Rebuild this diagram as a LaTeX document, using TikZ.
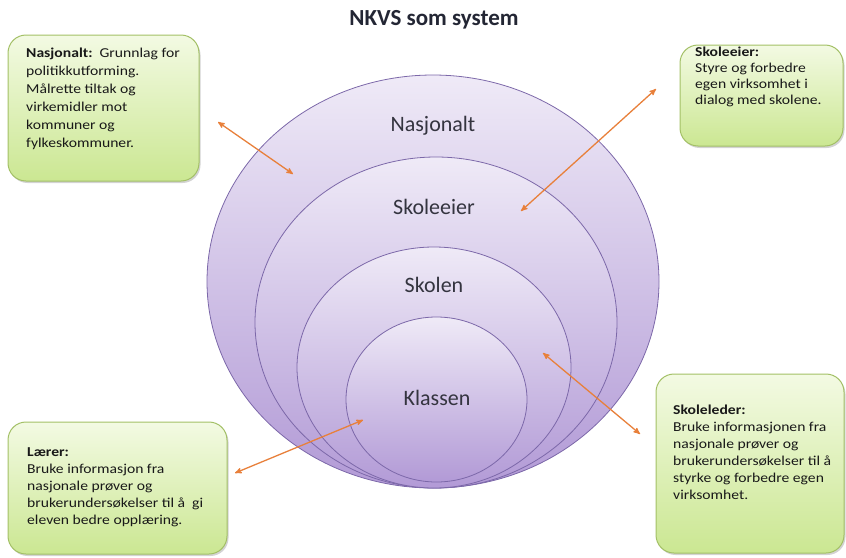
\documentclass[tikz,border=0pt]{standalone}
\usepackage{fontspec}
\setmainfont{Carlito}
\newfontfamily\boxfont[FakeStretch=1.15]{Carlito}
\usetikzlibrary{shapes,arrows,shadows,calc}

\definecolor{lilaTop}{HTML}{EFEAF7}
\definecolor{lilaBot}{HTML}{B29AD6}
\definecolor{lilaLine}{HTML}{7C68A9}
\definecolor{grTop}{HTML}{F3FAE3}
\definecolor{grBot}{HTML}{CBE792}
\definecolor{grLine}{HTML}{A3C066}
\definecolor{pilfarge}{HTML}{E8803B}
\definecolor{tittelgray}{HTML}{232634}
\definecolor{labelgray}{HTML}{34343F}

\begin{document}
\begin{tikzpicture}[x=1pt,y=-1pt,
  nivaa/.style={ellipse,draw=lilaLine,line width=0.8pt,top color=lilaTop,bottom color=lilaBot,inner sep=0pt,outer sep=0pt},
  nivaatekst/.style={font=\fontsize{22}{26}\selectfont,text=labelgray},
  boks/.style={draw=grLine,line width=1pt,rounded corners=18pt,top color=grTop,bottom color=grBot,
    drop shadow={shadow xshift=1.5pt,shadow yshift=-2pt,opacity=0.35}},
  bokstekst/.style={font=\boxfont\fontsize{13.6}{17}\selectfont,align=left,anchor=north west,inner sep=0pt,text=black!90},
  pil/.style={<->,>=stealth',draw=pilfarge,line width=1.3pt}]
        \useasboundingbox (0,0) rectangle (846,557);
        \node[font=\bfseries\fontsize{23}{27}\selectfont,text=tittelgray] (tittel) at (434,20) {NKVS som system};

        % the four levels, all touching at the bottom
        \node[nivaa,minimum width=452pt,minimum height=413pt] (nasjonalt) at (433,281.5) {};
        \node[nivaa,minimum width=362pt,minimum height=331pt] (skoleeier) at (436,322.5) {};
        \node[nivaa,minimum width=274pt,minimum height=241pt] (skolen) at (434,367.5) {};
        \node[nivaa,minimum width=181pt,minimum height=165pt] (klassen) at (436.5,399.5) {};
        \node[nivaatekst] (nasjonaltTxt) at (433,126) {Nasjonalt};
        \node[nivaatekst] (skoleeierTxt) at (434,207) {Skoleeier};
        \node[nivaatekst] (skolenTxt) at (434,285) {Skolen};
        \node[nivaatekst] (klassenTxt) at (437,398) {Klassen};

        % boxes
        \node[boks,minimum width=191pt,minimum height=146pt] (nasjonaltBoks) at (103.5,108) {};
        \node[bokstekst,font=\boxfont\fontsize{13.6}{18}\selectfont] (nasjonaltBoksTxt) at (26,48)
          {\textbf{Nasjonalt:}\ \ Grunnlag for\\politikkutforming.\\Målrette tiltak og\\virkemidler mot\\kommuner og\\fylkeskommuner.};
        \node[boks,minimum width=163pt,minimum height=101pt] (skoleeierBoks) at (761.5,95.5) {};
        \node[bokstekst,font=\boxfont\fontsize{13.6}{16}\selectfont] (skoleeierBoksTxt) at (695,47)
          {\textbf{Skoleeier:}\\Styre og forbedre\\egen virksomhet i\\dialog med skolene.};
        \node[boks,minimum width=219pt,minimum height=132pt] (laererBoks) at (117.5,488) {};
        \node[bokstekst] (laererBoksTxt) at (27,447)
          {\textbf{Lærer:}\\Bruke informasjon fra\\nasjonale prøver og\\brukerundersøkelser til å\ \ gi\\eleven bedre opplæring.};
        \node[boks,minimum width=188pt,minimum height=179pt] (skolelederBoks) at (750,463.5) {};
        \node[bokstekst] (skolelederBoksTxt) at (673,405)
          {\textbf{Skoleleder:}\\Bruke informasjonen fra\\nasjonale prøver og\\brukerundersøkelser til å\\styrke og forbedre egen\\virksomhet.};

        % arrows
        \coordinate (p1a) at (218,122); \coordinate (p1b) at (293,174);
        \coordinate (p2a) at (656,89);  \coordinate (p2b) at (521,211);
        \coordinate (p3a) at (640,434); \coordinate (p3b) at (543,353);
        \coordinate (p4a) at (235,473); \coordinate (p4b) at (363,420);
        \draw[pil] (p1a) -- (p1b);
        \draw[pil] (p2a) -- (p2b);
        \draw[pil] (p3a) -- (p3b);
        \draw[pil] (p4a) -- (p4b);
\end{tikzpicture}
\end{document}
